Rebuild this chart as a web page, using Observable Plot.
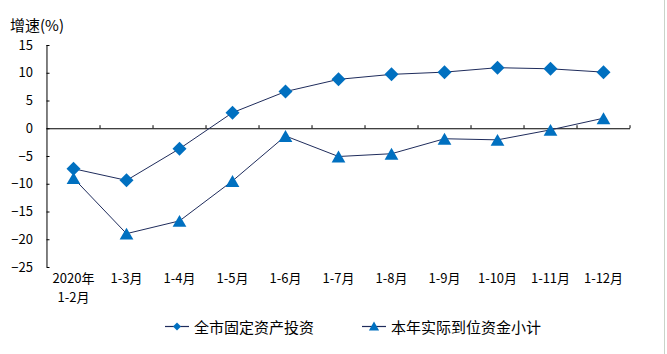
<!DOCTYPE html>
<html><head><meta charset="utf-8">
<script src="https://cdn.jsdelivr.net/npm/d3@7"></script>
<script src="https://cdn.jsdelivr.net/npm/@observablehq/plot@0.6"></script>
<style>
body{margin:0;background:#fff;font-family:"Noto Sans CJK SC",sans-serif;}
#wrap{position:relative;width:667px;height:354px;overflow:hidden;background:#fff}
#chart{position:absolute;left:0;top:0}
#ylab{position:absolute;left:10px;top:15px;font-size:15px;line-height:20px;color:#000;white-space:nowrap}
.leg{position:absolute;top:316px;height:20px;display:flex;align-items:center;font-size:15px;color:#000;white-space:nowrap}
.leg svg{display:block;margin-right:4px}
#edge{position:absolute;left:664px;top:0;width:1px;height:354px;background:#c9d3c9}
</style></head><body>
<div id="wrap">
<div id="chart"></div>
<div id="ylab">增速(%)</div>
<div id="edge"></div>
</div>
<script>
const categories = ["2020年\n1-2月","1-3月","1-4月","1-5月","1-6月","1-7月","1-8月","1-9月","1-10月","1-11月","1-12月"];
const investment = [-7.2,-9.3,-3.6,2.9,6.7,8.9,9.8,10.2,11.0,10.8,10.2];
const funds = [-8.9,-18.9,-16.6,-9.4,-1.3,-5.0,-4.5,-1.8,-2.0,-0.2,1.9];
const yTicks = [-25,-20,-15,-10,-5,0,5,10,15];
const seriesNames = ["全市固定资产投资","本年实际到位资金小计"];

const lineColor = "#1f2c5c";
const markColor = "#0070C0";
const font = '"Noto Sans CJK SC", sans-serif';

const invRows = categories.map((c,i)=>({cat:c, value:investment[i], series:seriesNames[0]}));
const fundRows = categories.map((c,i)=>({cat:c, value:funds[i], series:seriesNames[1]}));
const rows = invRows.concat(fundRows);

const W = 667, H = 310, ML = 46.5, MR = 37;
const step = (W - ML - MR) / categories.length;

const plot = Plot.plot({
  width: W, height: H,
  marginLeft: ML, marginRight: MR, marginTop: 45, marginBottom: 43,
  style: {fontFamily: font, fontSize: "13px", color: "#000", background: "transparent", overflow: "visible"},
  x: {type: "point", domain: categories, padding: 0.5, axis: null},
  y: {domain: [-25, 15], axis: null},
  marks: [
    Plot.axisY({ticks: yTicks, tickSize: 0, tickPadding: 14, label: null}),
    Plot.axisY({ticks: yTicks, tickSize: 3, dx: 3, tickFormat: () => "", label: null, stroke: "#000"}),
    Plot.ruleX([categories[0]], {x: d => d, dx: -step/2, y1: -25, y2: 15, stroke: "#000", strokeWidth: 1}),
    Plot.ruleY([0], {stroke: "#000", strokeWidth: 1}),
    Plot.ruleX(categories, {x: d => d, dx: step/2, y1: 0, y2: 0.55, stroke: "#000", strokeWidth: 1}),
    Plot.axisX({tickSize: 0, tickPadding: 3, label: null, lineHeight: 1.4}),
    Plot.line(rows, {x: "cat", y: "value", z: "series", stroke: lineColor, strokeWidth: 1}),
    Plot.dot(invRows, {x: "cat", y: "value", symbol: "diamond2", r: 6.3, fill: markColor, stroke: "none"}),
    Plot.dot(fundRows, {x: "cat", y: "value", symbol: "triangle", r: 5.1, dy: 2, fill: markColor, stroke: "none"})
  ]
});
document.getElementById("chart").appendChild(plot);

// legend
const wrap = document.getElementById("wrap");
const legItems = [
  {name: seriesNames[0], left: 164, symbol: d3.symbolDiamond2, size: 40, dy: 0},
  {name: seriesNames[1], left: 361, symbol: d3.symbolTriangle, size: 45, dy: 1}
];
legItems.forEach(it => {
  const div = document.createElement("div");
  div.className = "leg";
  div.style.left = it.left + "px";
  const svg = d3.create("svg").attr("width", 26).attr("height", 20);
  svg.append("line").attr("x1", 1).attr("x2", 25).attr("y1", 10.5).attr("y2", 10.5)
     .attr("stroke", lineColor).attr("stroke-width", 1.2);
  svg.append("path").attr("d", d3.symbol(it.symbol, it.size)())
     .attr("transform", `translate(13,${10.5 + it.dy})`).attr("fill", markColor);
  div.appendChild(svg.node());
  const span = document.createElement("span");
  span.textContent = it.name;
  div.appendChild(span);
  wrap.appendChild(div);
});
</script>
</body></html>
